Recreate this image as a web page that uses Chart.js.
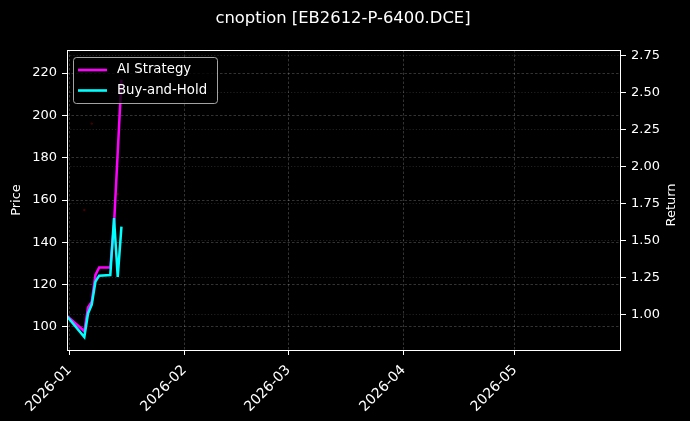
<!DOCTYPE html>
<html>
<head>
<meta charset="utf-8">
<script src="https://cdn.jsdelivr.net/npm/chart.js@4.4.1/dist/chart.umd.min.js"></script>
<style>
  html, body { margin: 0; padding: 0; background: #000; }
  #wrap { width: 690px; height: 421px; position: relative; }
</style>
</head>
<body>
<div id="wrap"><canvas id="c" width="690" height="421"></canvas></div>
<script>
// ---- data ----
const chartTitle = 'cnoption [EB2612-P-6400.DCE]';
const priceAxisTitle = 'Price';
const returnAxisTitle = 'Return';
const dates = ['2025-12-31','2026-01-05','2026-01-06','2026-01-07','2026-01-08','2026-01-09','2026-01-12','2026-01-13','2026-01-14','2026-01-15'];
const aiStrategy = [1.00, 0.89, 1.05, 1.09, 1.27, 1.32, 1.32, 1.61, 2.10, 2.59];
const buyAndHold = [1.00, 0.85, 1.01, 1.07, 1.225, 1.265, 1.27, 1.655, 1.257, 1.597];
const priceDates = ['2026-01-05','2026-01-07','2026-01-14'];
const priceValues = [155.3, 196.1, 162.8];
const monthTicks = ['2026-01','2026-02','2026-03','2026-04','2026-05'];
const priceTicks = [100, 120, 140, 160, 180, 200, 220];
const returnTicks = [1.00, 1.25, 1.50, 1.75, 2.00, 2.25, 2.50, 2.75];
const xRange = ['2025-12-31T08:00', '2026-05-29T14:00'];
const priceRange = [89.1, 230.9];
const returnRange = [0.763, 2.79];

function ts(s) {
  const [d, t] = s.split('T');
  const p = d.split('-').map(Number);
  let h = 0, mi = 0;
  if (t) { [h, mi] = t.split(':').map(Number); }
  return Date.UTC(p[0], (p[1] || 1) - 1, p[2] || 1, h, mi);
}
function fmtMonth(v) {
  const d = new Date(v);
  return d.getUTCFullYear() + '-' + String(d.getUTCMonth() + 1).padStart(2, '0');
}

Chart.defaults.font.family = "'DejaVu Sans', sans-serif";
Chart.defaults.font.size = 13;
Chart.defaults.color = '#ffffff';

const AREA = { left: 67, right: 621, top: 50, bottom: 350 };
const FONT = "'DejaVu Sans', sans-serif";

const framePlugin = {
  id: 'frame',
  beforeDraw(chart) {
    const ctx = chart.ctx;
    ctx.save();
    ctx.fillStyle = '#000';
    ctx.fillRect(0, 0, chart.width, chart.height);
    ctx.restore();
  },
  afterDatasetsDraw(chart) {
    const ctx = chart.ctx;
    const a = chart.chartArea;
    // legend
    const bx = a.left + 6, by = a.top + 7, bw = 144, bh = 46;
    ctx.save();
    ctx.beginPath();
    if (ctx.roundRect) ctx.roundRect(bx + 0.5, by + 0.5, bw, bh, 3); else ctx.rect(bx + 0.5, by + 0.5, bw, bh);
    ctx.fillStyle = 'rgba(0,0,0,0.8)';
    ctx.fill();
    ctx.strokeStyle = 'rgba(204,204,204,0.8)';
    ctx.lineWidth = 1;
    ctx.stroke();
    const items = [
      { label: 'AI Strategy', color: '#ff00ff' },
      { label: 'Buy-and-Hold', color: '#00ffff' }
    ];
    items.forEach((it, i) => {
      const y = by + 13 + i * 20.5;
      ctx.beginPath();
      ctx.moveTo(bx + 5, y);
      ctx.lineTo(bx + 34, y);
      ctx.strokeStyle = it.color;
      ctx.lineWidth = 2.6;
      ctx.stroke();
      ctx.fillStyle = '#ffffff';
      ctx.font = "13.3px " + FONT;
      ctx.textBaseline = 'middle';
      ctx.textAlign = 'left';
      ctx.fillText(it.label, bx + 44, y);
    });
    ctx.restore();
  },
  afterDraw(chart) {
    const ctx = chart.ctx;
    const a = chart.chartArea;
    ctx.save();
    ctx.strokeStyle = '#ffffff';
    ctx.lineWidth = 1;
    ctx.strokeRect(Math.round(a.left) + 0.5, Math.round(a.top) + 0.5, Math.round(a.right - a.left) - 1, Math.round(a.bottom - a.top));
    ctx.fillStyle = '#ffffff';
    ctx.font = "16.4px " + FONT;
    ctx.textAlign = 'center';
    ctx.textBaseline = 'middle';
    ctx.fillText(chartTitle, 343, 19);
    // axis titles (both read bottom-to-top)
    ctx.font = "13px " + FONT;
    const cy = (a.top + a.bottom) / 2;
    ctx.save();
    ctx.translate(17, cy);
    ctx.rotate(-Math.PI / 2);
    ctx.fillText(priceAxisTitle, 0, 0);
    ctx.restore();
    ctx.save();
    ctx.translate(672, cy + 5);
    ctx.rotate(-Math.PI / 2);
    ctx.fillText(returnAxisTitle, 0, 0);
    ctx.restore();
    ctx.restore();
  }
};

const toXY = (ds, vs) => ds.map((d, i) => ({ x: ts(d), y: vs[i] }));

new Chart(document.getElementById('c'), {
  type: 'line',
  data: {
    datasets: [
      {
        label: 'Buy-and-Hold', data: toXY(dates, buyAndHold), yAxisID: 'y1',
        borderColor: '#00ffff', borderWidth: 2.5, pointRadius: 0, tension: 0, order: 0
      },
      {
        label: 'AI Strategy', data: toXY(dates, aiStrategy), yAxisID: 'y1',
        borderColor: '#ff00ff', borderWidth: 2.5, pointRadius: 0, tension: 0, order: 1
      },
      {
        label: 'Price', data: toXY(priceDates, priceValues), yAxisID: 'y',
        showLine: false, pointRadius: 1.2, pointBorderWidth: 0,
        pointBackgroundColor: 'rgba(130,0,0,0.55)', borderColor: 'rgba(130,0,0,0.55)', order: 2
      }
    ]
  },
  options: {
    responsive: false,
    animation: false,
    devicePixelRatio: 1,
    layout: { padding: { top: AREA.top, left: 0, right: 0, bottom: 0 } },
    plugins: { legend: { display: false }, title: { display: false }, tooltip: { enabled: false } },
    scales: {
      x: {
        type: 'linear',
        min: ts(xRange[0]), max: ts(xRange[1]),
        afterBuildTicks(s) { s.ticks = monthTicks.map(m => ({ value: ts(m) })); },
        afterFit(s) { s.height = 421 - AREA.bottom; },
        ticks: { callback: v => fmtMonth(v), minRotation: 45, maxRotation: 45, autoSkip: false, padding: 7, color: '#ffffff', font: { size: 14 } },
        grid: { color: 'rgba(255,255,255,0.2)', tickColor: '#ffffff', tickLength: 5, tickBorderDash: [] },
        border: { display: false, dash: [2.5, 2] }
      },
      y: {
        position: 'left',
        min: priceRange[0], max: priceRange[1],
        afterBuildTicks(s) { s.ticks = priceTicks.map(v => ({ value: v })); },
        afterFit(s) { s.width = AREA.left; },
        ticks: { padding: 5, color: '#ffffff', callback: v => String(v) },
        grid: { color: 'rgba(255,255,255,0.2)', tickColor: '#ffffff', tickLength: 5, tickBorderDash: [] },
        border: { display: false, dash: [2.5, 2] },
        title: { display: false }
      },
      y1: {
        position: 'right',
        min: returnRange[0], max: returnRange[1],
        afterBuildTicks(s) { s.ticks = returnTicks.map(v => ({ value: v })); },
        afterFit(s) { s.width = 690 - AREA.right; },
        ticks: { padding: 5, color: '#ffffff', callback: v => Number(v).toFixed(2) },
        grid: { color: 'rgba(255,255,255,0.13)', tickColor: '#ffffff', tickLength: 5, tickBorderDash: [] },
        border: { display: false, dash: [1.2, 2] },
        title: { display: false }
      }
    }
  },
  plugins: [framePlugin]
});
</script>
</body>
</html>
